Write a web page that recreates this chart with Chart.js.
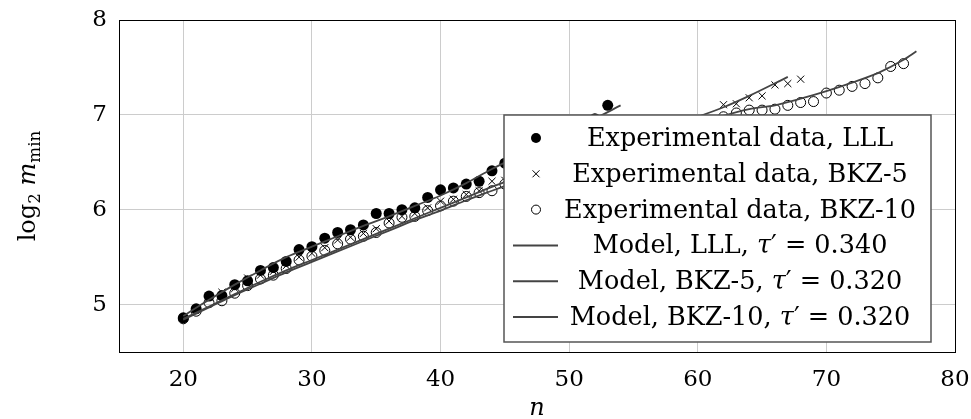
<!DOCTYPE html>
<html>
<head>
<meta charset="utf-8">
<script src="https://cdn.jsdelivr.net/npm/chart.js@4/dist/chart.umd.min.js"></script>
<style>
    html, body { margin: 0; padding: 0; background: #fff; }
    #wrap { width: 971px; height: 419px; position: relative; }
</style>
</head>
<body>
<div id="wrap"><canvas id="mminChart"></canvas></div>
<script>
const nLLL = [20, 21, 22, 23, 24, 25, 26, 27, 28, 29, 30, 31, 32, 33, 34, 35, 36, 37, 38, 39, 40, 41, 42, 43, 44, 45, 52, 53];
const lllValues = [4.86, 4.955, 5.09, 5.095, 5.21, 5.25, 5.36, 5.39, 5.455, 5.58, 5.61, 5.70, 5.76, 5.79, 5.84, 5.96, 5.96, 6.00, 6.02, 6.13, 6.21, 6.23, 6.27, 6.30, 6.41, 6.49, 6.96, 7.10];

const nBkz5 = [20, 21, 22, 23, 24, 25, 26, 27, 28, 29, 30, 31, 32, 33, 34, 35, 36, 37, 38, 39, 40, 41, 42, 43, 44, 45, 62, 63, 64, 65, 66, 67, 68];
const bkz5Values = [4.86, 4.95, 5.08, 5.13, 5.17, 5.28, 5.31, 5.35, 5.41, 5.50, 5.54, 5.60, 5.68, 5.71, 5.75, 5.80, 5.88, 5.93, 5.96, 6.02, 6.09, 6.11, 6.16, 6.20, 6.30, 6.31, 7.107, 7.117, 7.18, 7.20, 7.316, 7.33, 7.376];

const nBkz10 = [20, 21, 22, 23, 24, 25, 26, 27, 28, 29, 30, 31, 32, 33, 34, 35, 36, 37, 38, 39, 40, 41, 42, 43, 44, 45, 62, 63, 64, 65, 66, 67, 68, 69, 70, 71, 72, 73, 74, 75, 76];
const bkz10Values = [4.85, 4.93, 5.02, 5.04, 5.12, 5.20, 5.27, 5.31, 5.38, 5.47, 5.51, 5.57, 5.64, 5.69, 5.72, 5.76, 5.86, 5.92, 5.93, 5.99, 6.04, 6.09, 6.14, 6.18, 6.20, 6.27, 6.98, 7.02, 7.05, 7.05, 7.06, 7.10, 7.13, 7.14, 7.23, 7.26, 7.30, 7.33, 7.39, 7.51, 7.54];

// Model curves (at a few n).
const nModelLLL = [20, 22, 24, 26, 28, 30, 32, 34, 36, 38, 40, 42, 44, 46, 48, 50, 52, 54];
const modelLLL = [4.88, 5.05, 5.21, 5.36, 5.50, 5.61, 5.72, 5.83, 5.93, 6.04, 6.15, 6.28, 6.43, 6.56, 6.69, 6.83, 6.96, 7.10];

const nModelBkz5 = [20, 22, 24, 26, 28, 30, 32, 34, 36, 38, 40, 42, 44, 46, 50, 55, 60, 62, 64, 67];
const modelBkz5 = [4.85, 4.98, 5.11, 5.24, 5.36, 5.47, 5.58, 5.69, 5.80, 5.91, 6.02, 6.13, 6.24, 6.34, 6.53, 6.76, 6.98, 7.08, 7.20, 7.40];

const nModelBkz10 = [20, 22, 24, 26, 28, 30, 32, 34, 36, 38, 40, 42, 44, 46, 50, 55, 60, 64, 66, 68, 70, 72, 74, 76, 77];
const modelBkz10 = [4.84, 4.97, 5.10, 5.22, 5.34, 5.45, 5.56, 5.67, 5.78, 5.89, 5.99, 6.10, 6.20, 6.30, 6.49, 6.71, 6.91, 7.06, 7.10, 7.17, 7.25, 7.34, 7.44, 7.58, 7.67];

// Axis ticks
const xTicks = [20, 30, 40, 50, 60, 70, 80];
const yTicks = [5, 6, 7, 8];

const SERIF = '"DejaVu Serif", "Liberation Serif", serif';
const MODEL_COLOR = '#444444';

function toPoints(xs, ys) {
    return xs.map(function (x, i) { return { x: x, y: ys[i] }; });
}

// Draw a run of text pieces (upright / italic / subscript) centred on x.
function drawRuns(ctx, runs, cx, cy, size) {
    let total = 0;
    runs.forEach(function (r) {
        const s = r.sub ? size * 0.7 : size;
        ctx.font = (r.italic ? 'italic ' : '') + s + 'px ' + SERIF;
        r.w = ctx.measureText(r.t).width;
        total += r.w;
    });
    let x = cx - total / 2;
    ctx.textAlign = 'left';
    ctx.textBaseline = 'alphabetic';
    runs.forEach(function (r) {
        const s = r.sub ? size * 0.7 : size;
        ctx.font = (r.italic ? 'italic ' : '') + s + 'px ' + SERIF;
        ctx.fillText(r.t, x, cy + (r.sub ? size * 0.22 : 0));
        x += r.w;
    });
}

const legendItems = [
    { kind: 'dot', runs: [{ t: 'Experimental data, LLL' }] },
    { kind: 'cross', runs: [{ t: 'Experimental data, BKZ-5' }] },
    { kind: 'circle', runs: [{ t: 'Experimental data, BKZ-10' }] },
    { kind: 'line', runs: [{ t: 'Model, LLL, ' }, { t: 'τ', italic: true }, { t: '′ = 0.340' }] },
    { kind: 'line', runs: [{ t: 'Model, BKZ-5, ' }, { t: 'τ', italic: true }, { t: '′ = 0.320' }] },
    { kind: 'line', runs: [{ t: 'Model, BKZ-10, ' }, { t: 'τ', italic: true }, { t: '′ = 0.320' }] }
];

// Frame, axis titles and the boxed legend drawn on top of the plot.
const decorations = {
    id: 'decorations',
    afterDraw: function (chart) {
        const ctx = chart.ctx;
        const area = chart.chartArea;
        ctx.save();

        ctx.strokeStyle = '#000';
        ctx.lineWidth = 1;
        ctx.strokeRect(area.left + 0.5, area.top + 0.5, area.right - area.left, area.bottom - area.top);

        ctx.fillStyle = '#000';
        drawRuns(ctx, [{ t: 'n', italic: true }], (area.left + area.right) / 2, 415, 24);

        ctx.save();
        ctx.translate(35, (area.top + area.bottom) / 2);
        ctx.rotate(-Math.PI / 2);
        drawRuns(ctx, [{ t: 'log' }, { t: '2', sub: true }, { t: ' ' }, { t: 'm', italic: true }, { t: 'min', sub: true }], 0, 0, 24);
        ctx.restore();

        // legend box
        const box = { left: 504, top: 115, right: 931, bottom: 342 };
        ctx.fillStyle = '#fff';
        ctx.fillRect(box.left, box.top, box.right - box.left, box.bottom - box.top);
        ctx.strokeStyle = '#555';
        ctx.lineWidth = 1.5;
        ctx.strokeRect(box.left, box.top, box.right - box.left, box.bottom - box.top);

        const markX = 536;
        const textX = 740;
        for (let i = 0; i < legendItems.length; i++) {
            const item = legendItems[i];
            const y = box.top + 23 + i * 35.8;
            ctx.fillStyle = '#000';
            ctx.strokeStyle = '#000';
            ctx.lineWidth = 1;
            if (item.kind === 'dot') {
                ctx.beginPath();
                ctx.arc(markX, y, 5, 0, Math.PI * 2);
                ctx.fill();
            } else if (item.kind === 'cross') {
                ctx.beginPath();
                ctx.moveTo(markX - 3.5, y - 3.5);
                ctx.lineTo(markX + 3.5, y + 3.5);
                ctx.moveTo(markX + 3.5, y - 3.5);
                ctx.lineTo(markX - 3.5, y + 3.5);
                ctx.stroke();
            } else if (item.kind === 'circle') {
                ctx.beginPath();
                ctx.arc(markX, y, 4.5, 0, Math.PI * 2);
                ctx.stroke();
            } else {
                ctx.strokeStyle = MODEL_COLOR;
                ctx.lineWidth = 2;
                ctx.beginPath();
                ctx.moveTo(513, y);
                ctx.lineTo(558, y);
                ctx.stroke();
            }
            ctx.fillStyle = '#000';
            drawRuns(ctx, item.runs, textX, y + 8, 25.5);
        }
        ctx.restore();
    }
};

const modelStyle = {
    showLine: true,
    borderColor: MODEL_COLOR,
    borderWidth: 1.8,
    pointRadius: 0,
    cubicInterpolationMode: 'monotone',
    fill: false
};

const ctx = document.getElementById('mminChart').getContext('2d');
const mminChart = new Chart(ctx, {
    type: 'scatter',
    data: {
        datasets: [
            Object.assign({ label: 'Model, LLL', data: toPoints(nModelLLL, modelLLL), order: 0 }, modelStyle),
            Object.assign({ label: 'Model, BKZ-5', data: toPoints(nModelBkz5, modelBkz5), order: 1 }, modelStyle),
            Object.assign({ label: 'Model, BKZ-10', data: toPoints(nModelBkz10, modelBkz10), order: 2 }, modelStyle),
            {
                label: 'Experimental data, LLL',
                data: toPoints(nLLL, lllValues),
                pointStyle: 'circle',
                pointRadius: 5.5,
                backgroundColor: '#000',
                borderColor: '#000',
                borderWidth: 0,
                order: 3
            },
            {
                label: 'Experimental data, BKZ-5',
                data: toPoints(nBkz5, bkz5Values),
                pointStyle: 'crossRot',
                pointRadius: 5,
                borderColor: '#000',
                borderWidth: 1,
                order: 4
            },
            {
                label: 'Experimental data, BKZ-10',
                data: toPoints(nBkz10, bkz10Values),
                pointStyle: 'circle',
                pointRadius: 5,
                backgroundColor: 'rgba(0,0,0,0)',
                borderColor: '#000',
                borderWidth: 1,
                order: 5
            }
        ]
    },
    options: {
        responsive: true,
        maintainAspectRatio: false,
        animation: false,
        layout: { padding: { left: 0, right: 16, top: 20, bottom: 0 } },
        scales: {
            x: {
                type: 'linear',
                min: 15,
                max: 80,
                afterBuildTicks: function (scale) {
                    scale.ticks = xTicks.map(function (v) { return { value: v }; });
                },
                afterFit: function (scale) {
                    scale.height = 67;
                    scale.paddingLeft = 0;
                    scale.paddingRight = 0;
                },
                grid: { color: '#cccccc', lineWidth: 1, drawTicks: false },
                border: { display: true, color: '#000', width: 1 },
                ticks: {
                    color: '#000',
                    padding: 14,
                    maxRotation: 0,
                    font: { family: SERIF, size: 23 }
                }
            },
            y: {
                type: 'linear',
                min: 4.5,
                max: 8,
                afterBuildTicks: function (scale) {
                    scale.ticks = yTicks.map(function (v) { return { value: v }; });
                },
                afterFit: function (scale) {
                    scale.width = 119;
                    scale.paddingTop = 0;
                    scale.paddingBottom = 0;
                },
                grid: { color: '#cccccc', lineWidth: 1, drawTicks: false },
                border: { display: true, color: '#000', width: 1 },
                ticks: {
                    color: '#000',
                    padding: 12,
                    font: { family: SERIF, size: 23 }
                }
            }
        },
        plugins: {
            legend: { display: false },
            tooltip: { enabled: false }
        }
    },
    plugins: [decorations]
});
</script>
</body>
</html>
